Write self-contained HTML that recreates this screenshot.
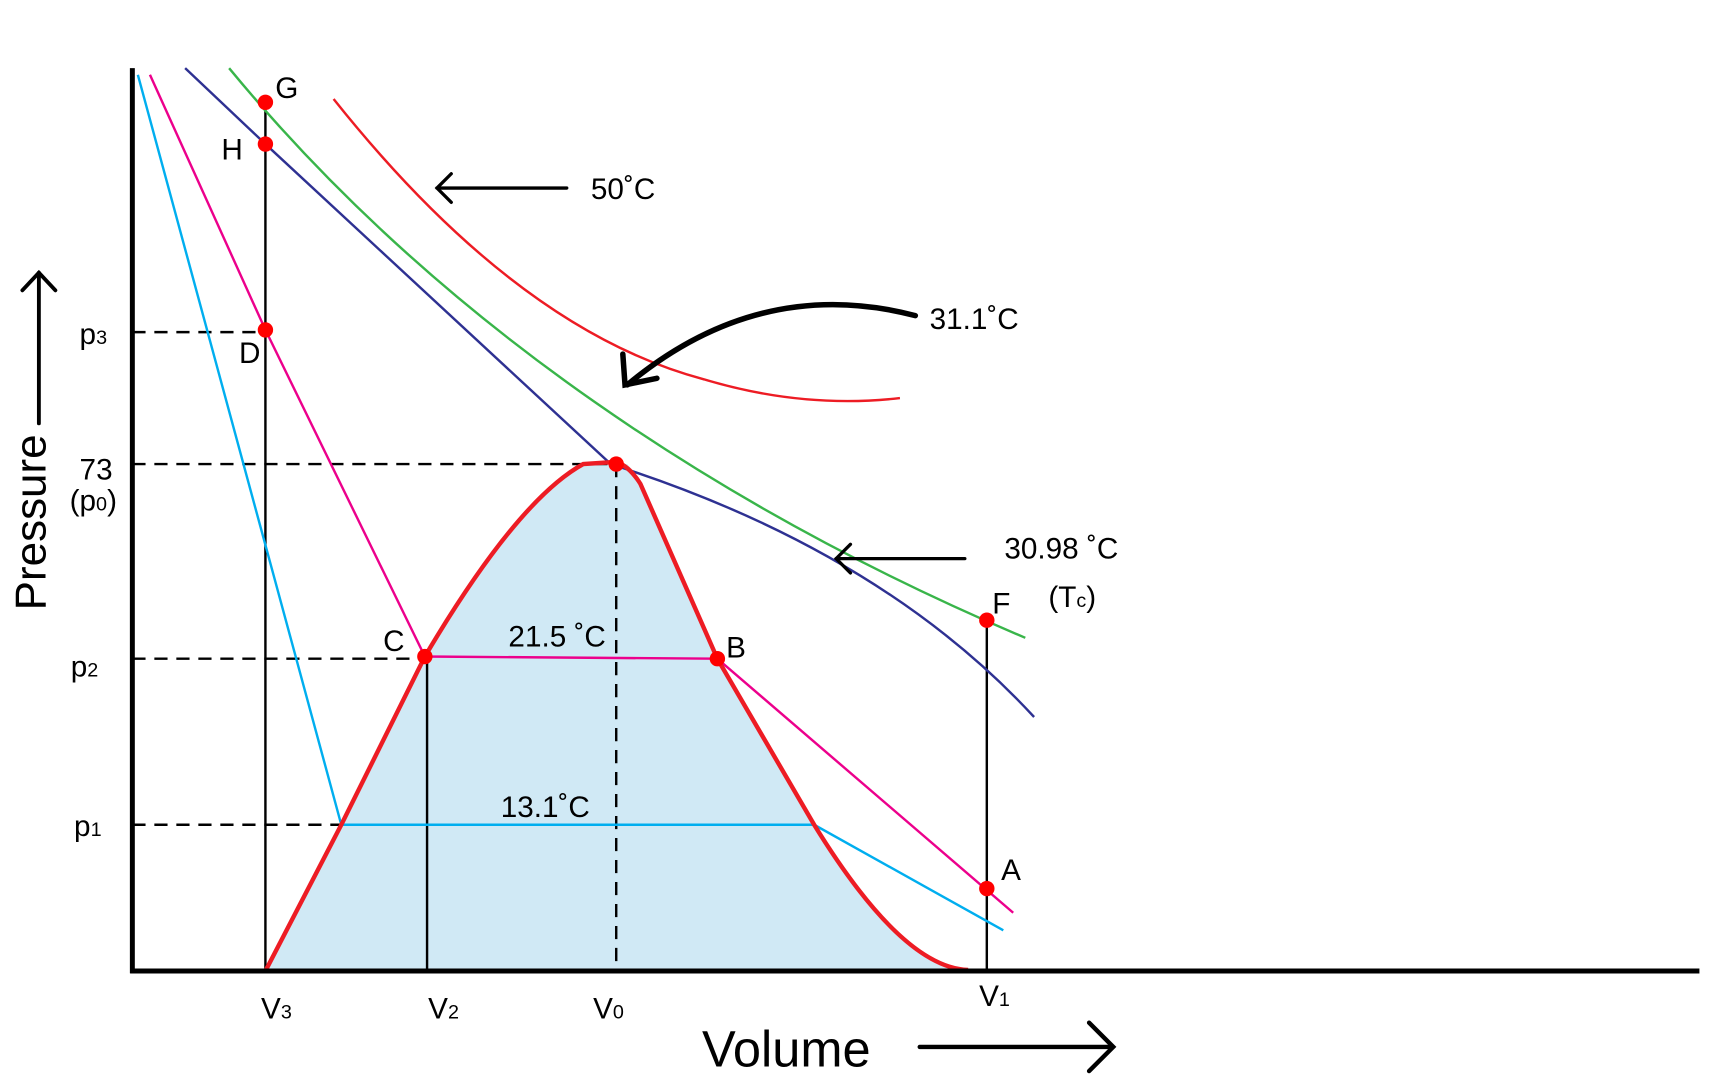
<!DOCTYPE html>
<html><head><meta charset="utf-8"><style>
html,body{margin:0;padding:0;background:#fff;}
svg{display:block;}
text{font-family:"Liberation Sans",sans-serif;fill:#000;}
</style></head><body>
<svg width="1724" height="1081" viewBox="0 0 1567 983" xmlns="http://www.w3.org/2000/svg">
<path d="M241,883 L310,750 L386,597 Q470,455 530,422 L570,422 Q576,428 582,440 L652,599 L740,750 Q820,880 880,882 L880,883 Z" fill="#d0e9f5"/>
<g stroke="#000" stroke-width="2.2" stroke-dasharray="12,8" fill="none">
<line x1="120" y1="302" x2="241" y2="302"/>
<line x1="120" y1="422" x2="555" y2="422"/>
<line x1="120" y1="599" x2="386" y2="599"/>
<line x1="120" y1="750" x2="310" y2="750"/>
<line x1="560" y1="422" x2="560" y2="883"/>
</g>
<g stroke="#000" stroke-width="2.2">
<line x1="241" y1="93" x2="241" y2="883"/>
<line x1="388" y1="597" x2="388" y2="883"/>
<line x1="897" y1="564" x2="897" y2="883"/>
</g>
<g fill="none" stroke-width="2.2">
<path d="M125,68 L310,750 L740,750 L912,846" stroke="#00aeef"/>
<path d="M136,68 L241,300 L386,597 L652,599 L921,830" stroke="#ec008c"/>
<path d="M168,62 L241,131 L555,422 Q800,500 940,652" stroke="#2e3192"/>
<path d="M208,62 C400,295 660,465 932,580" stroke="#39b54a"/>
<path d="M303,90 Q470,300 640,345 Q730,372 818,362" stroke="#ed1c24"/>
</g>
<path d="M241,883 L310,750 L386,597 Q470,455 530,422 L560,420 Q572,424 582,440 L652,599 L740,750 Q820,880 880,882" fill="none" stroke="#ed1c24" stroke-width="4"/>
<g stroke="#000" stroke-width="4.5" fill="none">
<line x1="120" y1="62" x2="120" y2="885"/>
<line x1="118" y1="883" x2="1545" y2="883"/>
</g>
<g stroke="#000" fill="none" stroke-linecap="round">
<line x1="515" y1="171" x2="397" y2="171" stroke-width="3"/>
<polyline points="410,158 397,171 410,184" stroke-width="3"/>
<path d="M832,287 Q690,250 570,350" stroke-width="5"/>
<polyline points="566,322 568,350 597,344" stroke-width="5"/>
<line x1="877" y1="508" x2="760" y2="508" stroke-width="3"/>
<polyline points="773,495 760,508 773,521" stroke-width="3"/>
<line x1="836" y1="952" x2="1010" y2="952" stroke-width="4"/>
<polyline points="990,930 1012,952 990,974" stroke-width="4"/>
<line x1="35" y1="385" x2="35" y2="248" stroke-width="3.5"/>
<polyline points="20,264 35,248 50,264" stroke-width="3.5"/>
</g>
<g fill="#ff0000">
<circle cx="241" cy="93" r="7"/><circle cx="241" cy="131" r="7"/><circle cx="241" cy="300" r="7"/>
<circle cx="560" cy="422" r="7"/><circle cx="386" cy="597" r="7"/><circle cx="652" cy="599" r="7"/>
<circle cx="897" cy="564" r="7"/><circle cx="897" cy="808" r="7"/>
</g>
<g font-size="27">
<text x="250" y="89">G</text><text x="201" y="145">H</text><text x="217" y="330">D</text>
<text x="348" y="592">C</text><text x="660" y="598">B</text><text x="902" y="558">F</text><text x="910" y="800">A</text>
<text x="537" y="181">50˚C</text><text x="845" y="299">31.1˚C</text>
<text x="913" y="508">30.98 ˚C</text><text x="953" y="552">(T<tspan font-size="18">c</tspan>)</text>
<text x="462" y="588">21.5 ˚C</text><text x="455" y="743">13.1˚C</text>
<text x="72" y="313">p<tspan font-size="18">3</tspan></text>
<text x="72" y="436">73</text><text x="63" y="464">(p<tspan font-size="18">0</tspan>)</text>
<text x="64" y="615">p<tspan font-size="18">2</tspan></text>
<text x="67" y="760">p<tspan font-size="18">1</tspan></text>
<text x="237" y="926">V<tspan font-size="18">3</tspan></text>
<text x="389" y="926">V<tspan font-size="18">2</tspan></text>
<text x="539" y="926">V<tspan font-size="18">0</tspan></text>
<text x="890" y="915">V<tspan font-size="18">1</tspan></text>
</g>
<text x="638" y="970" font-size="46">Volume</text>
<text transform="translate(41,555) rotate(-90)" font-size="40">Pressure</text>
</svg>
</body></html>
